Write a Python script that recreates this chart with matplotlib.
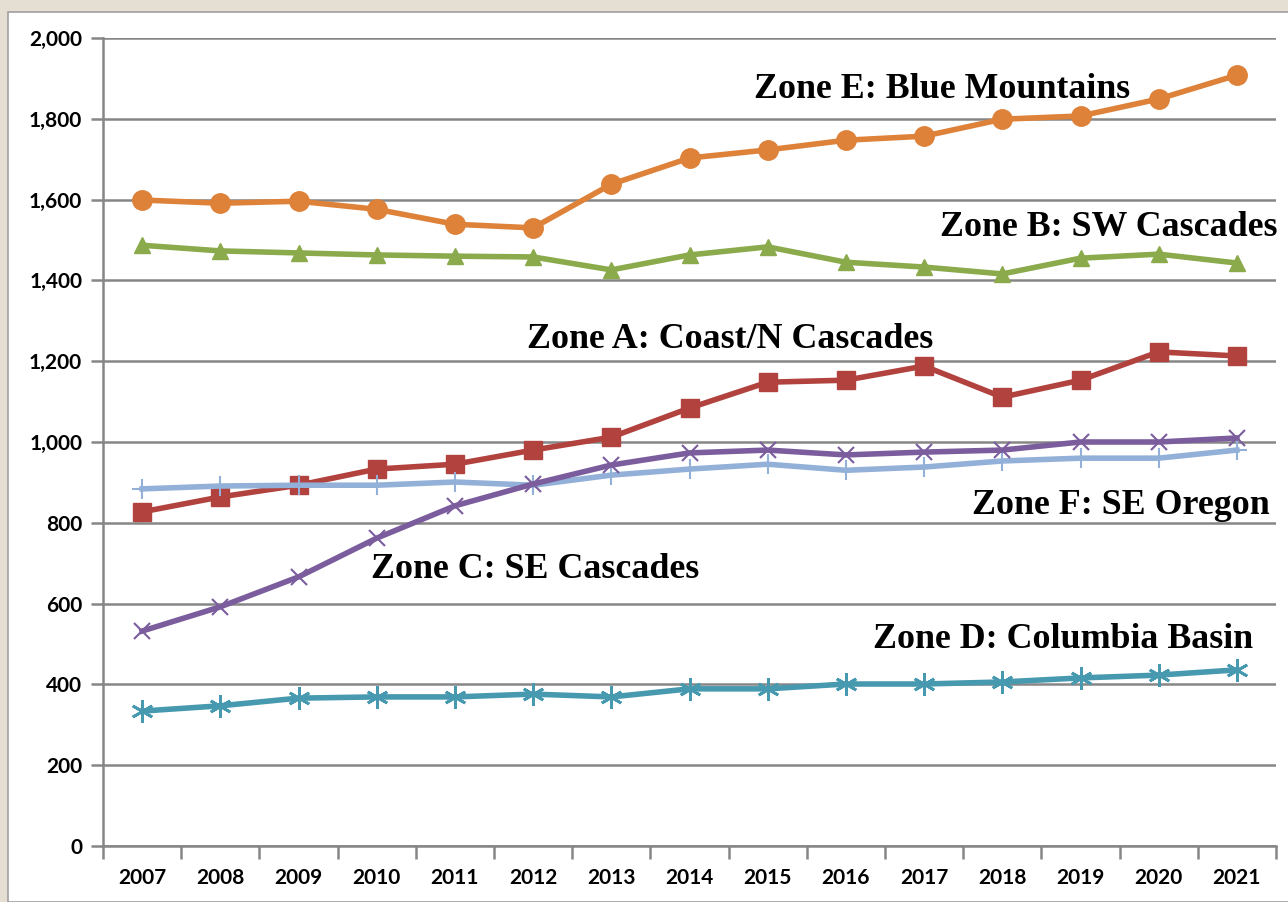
import matplotlib
matplotlib.use("Agg")
import matplotlib.pyplot as plt
import numpy as np
from matplotlib.patches import Rectangle

years = ["2007", "2008", "2009", "2010", "2011", "2012", "2013", "2014",
         "2015", "2016", "2017", "2018", "2019", "2020", "2021"]
zone_e = [1599, 1591, 1596, 1576, 1539, 1530, 1638, 1703, 1723, 1747, 1757, 1799, 1807, 1849, 1908]
zone_b = [1487, 1473, 1468, 1463, 1460, 1458, 1426, 1463, 1483, 1445, 1433, 1416, 1455, 1465, 1443]
zone_a = [827, 864, 893, 933, 945, 980, 1012, 1084, 1148, 1153, 1188, 1111, 1153, 1223, 1213]
zone_f = [884, 891, 893, 893, 901, 893, 918, 933, 945, 930, 938, 953, 960, 960, 980]
zone_c = [532, 592, 666, 762, 842, 896, 943, 973, 980, 968, 975, 980, 1000, 1000, 1010]
zone_d = [334, 347, 366, 369, 369, 376, 369, 389, 389, 401, 401, 406, 416, 423, 436]
y_ticks = [0, 200, 400, 600, 800, 1000, 1200, 1400, 1600, 1800, 2000]

W, H = 1288, 902
fig = plt.figure(figsize=(W / 100, H / 100), dpi=100, facecolor="#E5DED3")
fig.patches.append(Rectangle((8 / W, 0), 1, 1 - 12 / H, transform=fig.transFigure,
                             facecolor="white", edgecolor="#A0A0A0", linewidth=1.2, zorder=-10))

ax = fig.add_axes([103 / W, 1 - 846 / H, (1276 - 103) / W, (846 - 38) / H])
ax.set_facecolor("none")
x = np.arange(len(years))

series = [
    (zone_e, "#DE8139", "o", 14, 0),
    (zone_b, "#8BAA4B", "^", 12, 0),
    (zone_a, "#B2423E", "s", 13, 0),
    (zone_f, "#93B0D8", "+", 14, 1.5),
    (zone_c, "#7B5C9D", "x", 12, 1.5),
    (zone_d, "#4699AF", "*", 15, 0),
]
for vals, col, mk, ms, mew in series:
    if mk == "*":
        ax.plot(x, vals, color=col, lw=4, zorder=3)
        ax.plot(x, vals, ls="none", marker=(6, 2, 0), ms=16, mec=col, mew=2, zorder=4)
    elif mk in ("+", "x"):
        ax.plot(x, vals, color=col, lw=4, marker=mk, ms=ms, mec=col, mew=mew, zorder=3)
    else:
        ax.plot(x, vals, color=col, lw=4, marker=mk, ms=ms, mfc=col, mec=col, zorder=3)

ax.set_xlim(-0.5, len(years) - 0.5)
ax.set_ylim(0, 2000)
ax.set_yticks(y_ticks)
ax.set_yticklabels([f"{v:,}" for v in y_ticks])
ax.yaxis.grid(True, color="#868686", lw=1.8, zorder=1)
ax.set_axisbelow(True)

ax.set_xticks(np.arange(-0.5, len(years)), minor=False)
ax.set_xticklabels([])
ax.set_xticks(x, minor=True)
ax.set_xticklabels(years, minor=True)
ax.tick_params(axis="x", which="major", length=9, width=1.8, color="#868686")
ax.tick_params(axis="x", which="minor", length=0, pad=16)
ax.tick_params(axis="y", length=9, width=1.8, color="#868686", pad=6)
for lab in ax.get_xticklabels(minor=True) + ax.get_yticklabels():
    lab.set_fontfamily("Lato")
    lab.set_fontweight("bold")
    lab.set_fontsize(15)

for s in ["top", "right"]:
    ax.spines[s].set_visible(False)
for s in ["left", "bottom"]:
    ax.spines[s].set_color("#868686")
    ax.spines[s].set_linewidth(1.8)

labels = [
    ("Zone E: Blue Mountains", 942, 90),
    ("Zone B: SW Cascades", 1109, 227),
    ("Zone A: Coast/N Cascades", 730, 340),
    ("Zone F: SE Oregon", 1121, 506),
    ("Zone C: SE Cascades", 535, 569),
    ("Zone D: Columbia Basin", 1063, 640),
]
for txt, px, py in labels:
    fig.text(px / W, 1 - py / H, txt, ha="center", va="center",
             fontfamily="Liberation Serif", fontweight="bold", fontsize=25.8, zorder=5)

fig.savefig("out.png", dpi=100, facecolor=fig.get_facecolor())
